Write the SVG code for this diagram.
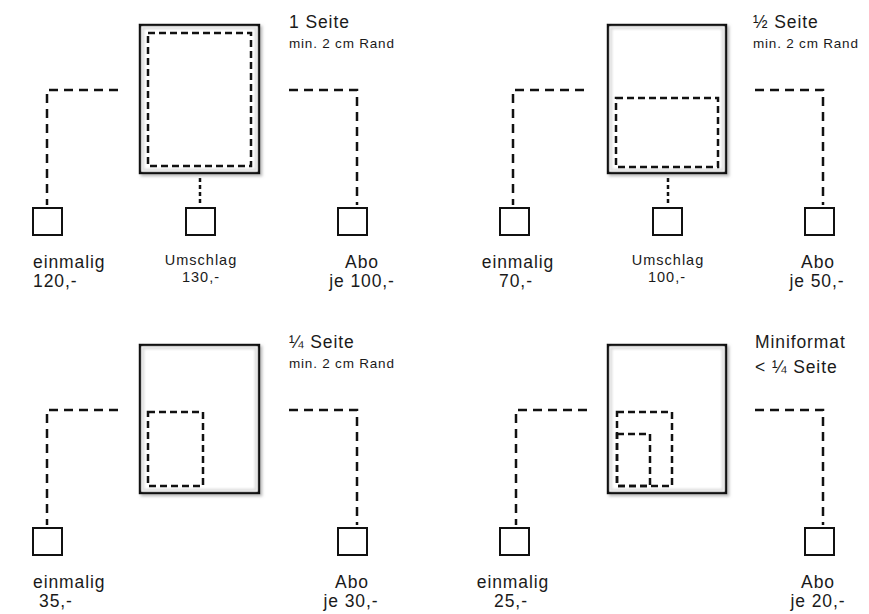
<svg xmlns="http://www.w3.org/2000/svg" width="869" height="614" viewBox="0 0 869 614">
<defs>
<filter id="sh" x="-10%" y="-10%" width="125%" height="125%">
<feDropShadow dx="2" dy="2" stdDeviation="1.5" flood-color="#888" flood-opacity="0.6"/>
</filter>
<filter id="blur" x="-5%" y="-5%" width="110%" height="110%">
<feGaussianBlur stdDeviation="0.8"/>
</filter>
</defs>
<style>
.page{fill:#fff;stroke:#111;stroke-width:2.5}
.glow{fill:none;stroke:#dcdcdc;stroke-width:2.5}
.area{fill:none;stroke:#111;stroke-width:2.5;stroke-dasharray:7 4}
.con{fill:none;stroke:#111;stroke-width:2.5;stroke-dasharray:9 6}
.con2{fill:none;stroke:#111;stroke-width:2.5;stroke-dasharray:4 3}
.box{fill:#fff;stroke:#111;stroke-width:2}
text{font-family:"Liberation Sans",Arial,sans-serif;fill:#1a1a1a}
.lg{font-size:17.5px;letter-spacing:0.9px}
.sm{font-size:13.5px;letter-spacing:0.8px}
.md{font-size:14.5px;letter-spacing:1px}
.c{text-anchor:middle}
</style>
<g id="connectors">
<path class="con" d="M118,90 H47 V205"/>
<path class="con" d="M289,90 H357 V205"/>
<path class="con2" d="M200,178 V204"/>
<path class="con" d="M584,90 H513 V205"/>
<path class="con" d="M755,90 H823 V205"/>
<path class="con2" d="M668,178 V204"/>
<path class="con" d="M118,410 H47 V525"/>
<path class="con" d="M289,410 H357 V525"/>
<path class="con" d="M587,410 H516 V525"/>
<path class="con" d="M755,410 H823 V525"/>
</g>
<g id="panel1">
<rect class="page" x="140" y="25" width="119" height="148" filter="url(#sh)"/>
<rect class="glow" x="143" y="28" width="113" height="142" filter="url(#blur)"/>
<rect class="area" x="148" y="33" width="103" height="133"/>
<text class="lg" x="289" y="28">1 Seite</text>
<text class="sm" x="289" y="48">min. 2 cm Rand</text>
<rect class="box" x="33" y="208" width="29" height="27"/>
<rect class="box" x="186" y="208" width="29" height="27"/>
<rect class="box" x="338" y="208" width="29" height="27"/>
<text class="lg" x="33" y="268">einmalig</text>
<text class="lg" x="33" y="287">120,-</text>
<text class="md c" x="201" y="265">Umschlag</text>
<text class="md c" x="201" y="282">130,-</text>
<text class="lg c" x="362" y="268">Abo</text>
<text class="lg c" x="362" y="287">je 100,-</text>
</g>
<g id="panel2">
<rect class="page" x="608" y="25" width="118" height="148" filter="url(#sh)"/>
<rect class="glow" x="611" y="28" width="112" height="142" filter="url(#blur)"/>
<rect class="area" x="616" y="98" width="102" height="69"/>
<text class="lg" x="753" y="28">½ Seite</text>
<text class="sm" x="753" y="48">min. 2 cm Rand</text>
<rect class="box" x="500" y="208" width="29" height="27"/>
<rect class="box" x="653" y="208" width="29" height="27"/>
<rect class="box" x="805" y="208" width="29" height="27"/>
<text class="lg c" x="518" y="268">einmalig</text>
<text class="lg c" x="516" y="287">70,-</text>
<text class="md c" x="668" y="265">Umschlag</text>
<text class="md c" x="667" y="282">100,-</text>
<text class="lg c" x="818" y="268">Abo</text>
<text class="lg c" x="817" y="287">je 50,-</text>
</g>
<g id="panel3">
<rect class="page" x="140" y="345" width="119" height="148" filter="url(#sh)"/>
<rect class="glow" x="143" y="348" width="113" height="142" filter="url(#blur)"/>
<rect class="area" x="148" y="412" width="55" height="74"/>
<text class="lg" x="289" y="348">¼ Seite</text>
<text class="sm" x="289" y="368">min. 2 cm Rand</text>
<rect class="box" x="33" y="528" width="29" height="27"/>
<rect class="box" x="338" y="528" width="29" height="27"/>
<text class="lg" x="33" y="588">einmalig</text>
<text class="lg" x="39" y="607">35,-</text>
<text class="lg c" x="352" y="588">Abo</text>
<text class="lg c" x="351" y="607">je 30,-</text>
</g>
<g id="panel4">
<rect class="page" x="608" y="345" width="118" height="148" filter="url(#sh)"/>
<rect class="glow" x="611" y="348" width="112" height="142" filter="url(#blur)"/>
<rect class="area" x="617" y="412" width="55" height="74"/>
<rect class="area" x="617" y="434" width="33" height="52"/>
<text class="lg" x="755" y="348">Miniformat</text>
<text class="lg" x="755" y="373">&lt; ¼ Seite</text>
<rect class="box" x="500" y="528" width="29" height="27"/>
<rect class="box" x="805" y="528" width="29" height="27"/>
<text class="lg c" x="513" y="588">einmalig</text>
<text class="lg c" x="511" y="607">25,-</text>
<text class="lg c" x="818" y="588">Abo</text>
<text class="lg c" x="818" y="607">je 20,-</text>
</g>
</svg>
